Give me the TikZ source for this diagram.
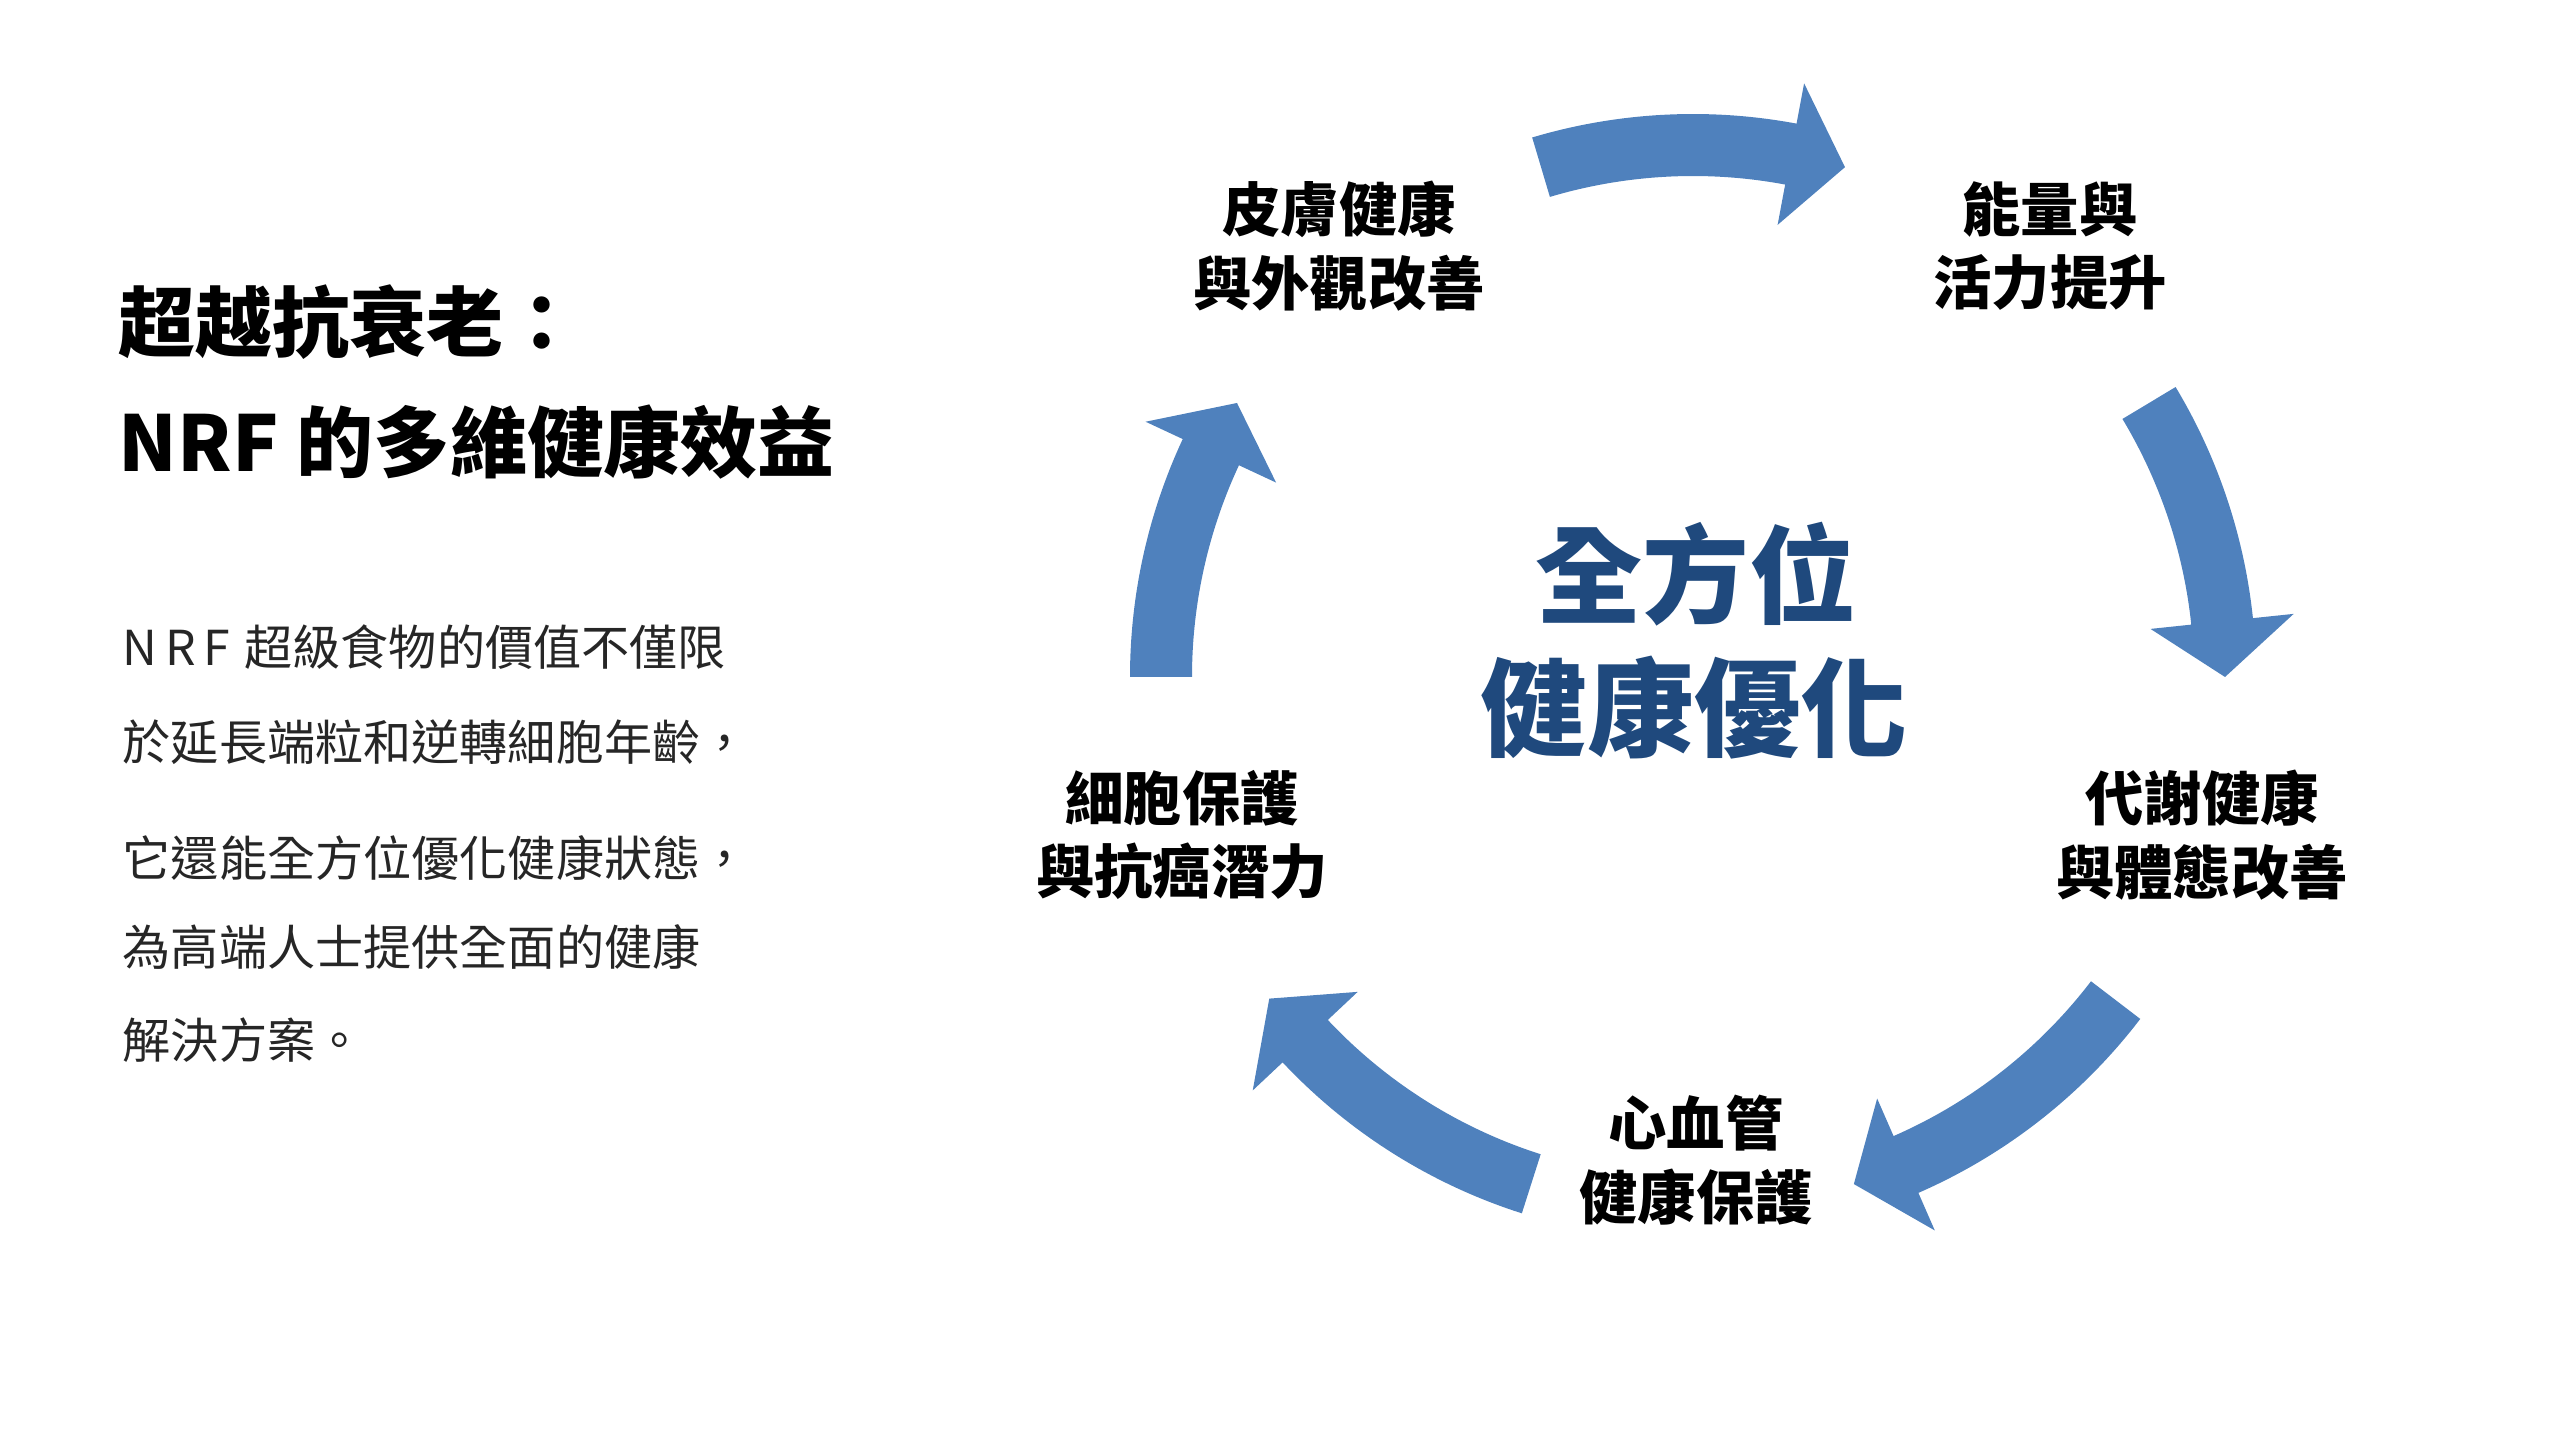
\documentclass[tikz,border=0pt]{standalone}
\usepackage{fontspec}
\setmainfont{Noto Sans CJK TC}
\definecolor{cycleblue}{HTML}{4F81BD}
\definecolor{hubnavy}{HTML}{1F497D}
\definecolor{bodygrey}{HTML}{262626}

\begin{document}
\begin{tikzpicture}
    [ title/.style={anchor=west,inner sep=0pt,font=\bfseries\fontsize{21.9}{26}\selectfont}
    , body/.style={anchor=west,inner sep=0pt,text=bodygrey,font=\fontsize{13.7}{16}\selectfont}
    , benefit/.style={align=center,inner sep=0pt,font=\bfseries\fontsize{16.6}{21}\selectfont}
    , hub/.style={inner sep=0pt,text=hubnavy,font=\bfseries\fontsize{30.4}{36}\selectfont}
    , cyclearrow/.style={fill=cycleblue}
    ]

    \useasboundingbox (0,0) rectangle (25.6,14.4);

    % left column
    \node [title] (title1) at (1.18,11.18) {超越抗衰老：};
    \node [title] (title2) at (1.18,9.98)  {NRF 的多維健康效益};

    \node [body] (body1) at (1.22,7.93) {{\addfontfeature{LetterSpace=16}NRF}\hspace{0.3em}超級食物的價值不僅限};
    \node [body] (body2) at (1.22,6.98) {於延長端粒和逆轉細胞年齡，};
    \node [body] (body3) at (1.22,5.82) {它還能全方位優化健康狀態，};
    \node [body] (body4) at (1.22,4.93) {為高端人士提供全面的健康};
    \node [body] (body5) at (1.22,4.00) {解決方案。};

    % cycle of arrows
    \begin{scope}[shift={(16.93,7.63)}]
      \foreach \tail/\tip in {106.6/73.4, 31/0, -37.4/-72.4, -107.7/-142.8, 180/149}
      {
        \pgfmathsetmacro\base{\tip+6}
        \fill [cyclearrow] (\tail:5.63) arc [start angle=\tail, end angle=\base, radius=5.63]
          -- (\base:6.04) -- (\tip:5.32) -- (\base:4.60) -- (\base:5.01)
          arc [start angle=\base, end angle=\tail, radius=5.01] -- cycle;
      }
    \end{scope}

    % hub
    \node [hub] (hub1) at (16.96,8.66) {全方位};
    \node [hub] (hub2) at (16.94,7.32) {健康優化};

    % benefits
    \node [benefit] (skin)    at (13.39,11.94) {皮膚健康\\與外觀改善};
    \node [benefit] (energy)  at (20.50,11.94) {能量與\\活力提升};
    \node [benefit] (metab)   at (22.02,6.05)  {代謝健康\\與體態改善};
    \node [benefit] (heart)   at (16.96,2.80)  {心血管\\健康保護};
    \node [benefit] (cell)    at (11.82,6.05)  {細胞保護\\與抗癌潛力};
\end{tikzpicture}
\end{document}
